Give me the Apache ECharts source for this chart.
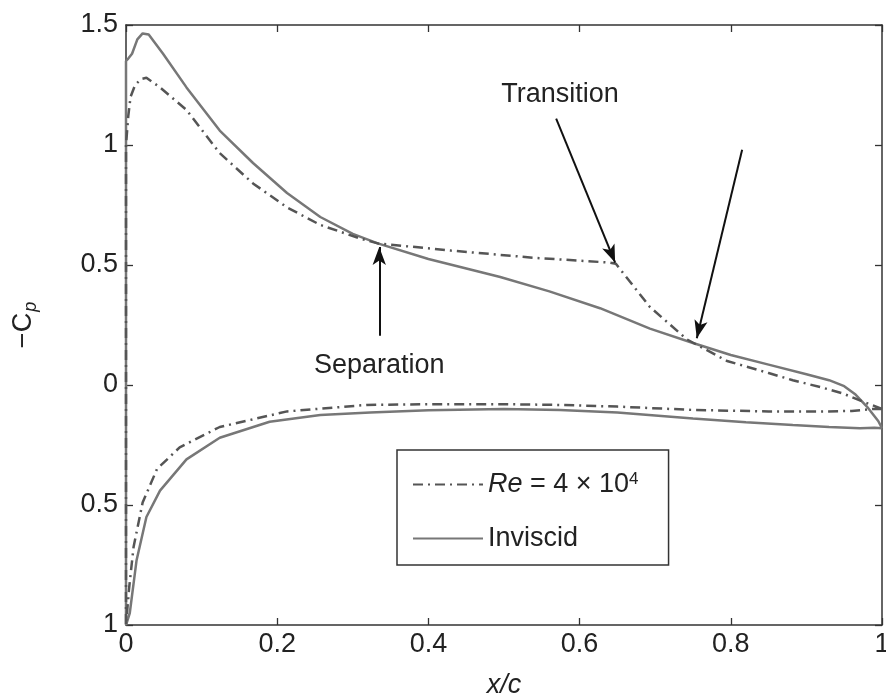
<!DOCTYPE html>
<html>
<head>
<meta charset="utf-8">
<script src="https://cdn.jsdelivr.net/npm/echarts@6/dist/echarts.min.js"></script>
<style>
  html, body { margin: 0; padding: 0; background: #fff; }
  #chart { width: 886px; height: 693px; }
</style>
</head>
<body>
<div id="chart"></div>
<script>
  // inviscid Cp, upper surface (leading edge -> trailing edge)
  const invUpperX = [0, 0.003, 0.008, 0.015, 0.022, 0.03, 0.049, 0.08, 0.124, 0.168, 0.213, 0.257, 0.3, 0.333, 0.4, 0.495, 0.56, 0.627, 0.693, 0.75, 0.8, 0.85, 0.9, 0.93, 0.95, 0.965, 0.98, 0.995, 1.0]
  const invUpperY = [1.35, 1.36, 1.38, 1.44, 1.465, 1.46, 1.38, 1.24, 1.06, 0.925, 0.80, 0.70, 0.63, 0.59, 0.525, 0.45, 0.39, 0.32, 0.235, 0.175, 0.125, 0.085, 0.045, 0.02, -0.005, -0.04, -0.09, -0.15, -0.18]
  // inviscid Cp, lower surface
  const invLowerX = [0, 0.005, 0.014, 0.027, 0.045, 0.08, 0.124, 0.19, 0.257, 0.323, 0.4, 0.5, 0.574, 0.65, 0.75, 0.82, 0.882, 0.93, 0.971, 0.99, 1.0]
  const invLowerY = [-1, -0.95, -0.73, -0.55, -0.44, -0.31, -0.22, -0.153, -0.125, -0.115, -0.105, -0.1, -0.104, -0.115, -0.14, -0.155, -0.167, -0.175, -0.18, -0.178, -0.18]
  // Re = 4e4, upper surface
  const reUpperX = [0, 0.003, 0.006, 0.012, 0.02, 0.027, 0.045, 0.08, 0.124, 0.168, 0.213, 0.257, 0.31, 0.333, 0.43, 0.54, 0.64, 0.648, 0.693, 0.742, 0.795, 0.85, 0.882, 0.92, 0.948, 0.975, 0.988, 1.0]
  const reUpperY = [1.0, 1.12, 1.2, 1.25, 1.275, 1.28, 1.24, 1.146, 0.966, 0.84, 0.74, 0.667, 0.61, 0.59, 0.56, 0.53, 0.51, 0.505, 0.325, 0.19, 0.1, 0.05, 0.02, -0.01, -0.035, -0.07, -0.085, -0.1]
  // Re = 4e4, lower surface
  const reLowerX = [0, 0.004, 0.01, 0.022, 0.041, 0.071, 0.124, 0.213, 0.318, 0.4, 0.5, 0.574, 0.65, 0.75, 0.85, 0.927, 0.96, 0.988, 1.0]
  const reLowerY = [-1, -0.85, -0.675, -0.49, -0.35, -0.26, -0.175, -0.11, -0.083, -0.08, -0.08, -0.083, -0.09, -0.104, -0.11, -0.11, -0.108, -0.1, -0.1]

  const xTickLabels = ['0', '0.2', '0.4', '0.6', '0.8', '1']
  const yTickLabels = ['1', '0.5', '0', '0.5', '1', '1.5']

  // annotation arrows: [from, to] in data coords
  const arrows = [
    [[0.335, 0.205], [0.335, 0.575]],
    [[0.569, 1.11], [0.647, 0.51]],
    [[0.815, 0.98], [0.755, 0.195]]
  ]
  const notes = [
    { text: 'Separation', at: [0.335, 0.083] },
    { text: 'Transition', at: [0.574, 1.21] }
  ]

  const FONT = 'Liberation Sans, Arial, sans-serif'
  const FS = 27

  // one closed path: lower TE -> LE, then upper LE -> TE
  function loop(lx, ly, ux, uy) {
    const pts = []
    for (let i = lx.length - 1; i >= 0; i--) pts.push([lx[i], ly[i]])
    for (let i = 0; i < ux.length; i++) pts.push([ux[i], uy[i]])
    return pts
  }

  const chart = echarts.init(document.getElementById('chart'))

  const axisLine = { show: true, onZero: false, lineStyle: { color: '#333', width: 1.5 } }
  const tick = { show: true, inside: true, length: 7, lineStyle: { color: '#333', width: 1.3 } }

  chart.setOption({
    animation: false,
    textStyle: { fontFamily: FONT },
    grid: { left: 126, right: 4, top: 25, bottom: 68, containLabel: false, outerBoundsMode: 'none' },
    legend: {
      orient: 'vertical',
      left: 397,
      top: 450,
      padding: [21, 30, 13, 15],
      itemGap: 27,
      itemWidth: 70,
      itemHeight: 14,
      borderColor: '#333',
      borderWidth: 1.5,
      borderRadius: 0,
      itemStyle: { opacity: 0 },
      textStyle: {
        fontSize: FS, color: '#222', fontFamily: FONT,
        rich: {
          i: { fontStyle: 'italic', fontSize: FS, color: '#222', fontFamily: FONT },
          n: { fontSize: FS, color: '#222', fontFamily: FONT },
          s: { fontSize: 17, color: '#222', fontFamily: FONT, verticalAlign: 'top', padding: [0, 0, 10, 0] }
        }
      },
      formatter: function (name) {
        if (name.indexOf('Re') === 0) return '{i|Re}{n| = 4 × 10}{s|4}'
        return name
      },
      data: ['Re', 'Inviscid']
    },
    xAxis: [{
      type: 'value', min: 0, max: 1, interval: 0.2,
      name: 'x/c', nameLocation: 'middle', nameGap: 47,
      nameTextStyle: { fontSize: FS, fontStyle: 'italic', color: '#222', fontFamily: FONT },
      axisLine: axisLine, axisTick: tick,
      axisLabel: {
        fontSize: FS, color: '#222', margin: 6, fontFamily: FONT,
        formatter: function (v) { return xTickLabels[Math.round(v / 0.2)] }
      },
      splitLine: { show: false }
    }, {
      type: 'value', min: 0, max: 1, interval: 0.2, position: 'top',
      axisLine: axisLine, axisTick: tick, axisLabel: { show: false }, splitLine: { show: false }
    }],
    yAxis: [{
      type: 'value', min: -1, max: 1.5, interval: 0.5,
      name: '{a|−C}{b|p}', nameLocation: 'middle', nameGap: 86, nameRotate: 90,
      nameTextStyle: {
        rich: {
          a: { fontSize: FS, color: '#222', fontFamily: FONT },
          b: { fontSize: 18, fontStyle: 'italic', color: '#222', fontFamily: FONT, verticalAlign: 'bottom', padding: [14, 0, 0, 1] }
        }
      },
      axisLine: axisLine, axisTick: tick,
      axisLabel: {
        fontSize: FS, color: '#222', margin: 8, fontFamily: FONT,
        formatter: function (v) { return yTickLabels[Math.round((v + 1) / 0.5)] }
      },
      splitLine: { show: false }
    }, {
      type: 'value', min: -1, max: 1.5, interval: 0.5, position: 'right',
      axisLine: axisLine, axisTick: tick, axisLabel: { show: false }, splitLine: { show: false }
    }],
    series: [{
      name: 'Re',
      type: 'line',
      showSymbol: false,
      symbol: 'none',
      data: loop(reLowerX, reLowerY, reUpperX, reUpperY),
      lineStyle: { color: '#555', width: 2.5, type: [10, 5, 2, 5] },
      itemStyle: { color: '#555' },
      z: 3,
      markLine: {
        silent: true,
        symbol: ['none', 'arrow'],
        symbolSize: [10, 18],
        label: { show: false },
        lineStyle: { color: '#111', width: 2, type: 'solid' },
        data: arrows.map(function (a) { return [{ coord: a[0] }, { coord: a[1] }] })
      },
      markPoint: {
        silent: true,
        symbol: 'circle',
        symbolSize: 0,
        label: { show: true, fontSize: FS, color: '#222', fontFamily: FONT, position: 'inside', formatter: '{b}' },
        data: notes.map(function (n) { return { name: n.text, coord: n.at } })
      }
    }, {
      name: 'Inviscid',
      type: 'line',
      showSymbol: false,
      symbol: 'none',
      data: loop(invLowerX, invLowerY, invUpperX, invUpperY),
      lineStyle: { color: '#777', width: 2.5, type: 'solid' },
      itemStyle: { color: '#777' },
      z: 2
    }]
  })
</script>
</body>
</html>
